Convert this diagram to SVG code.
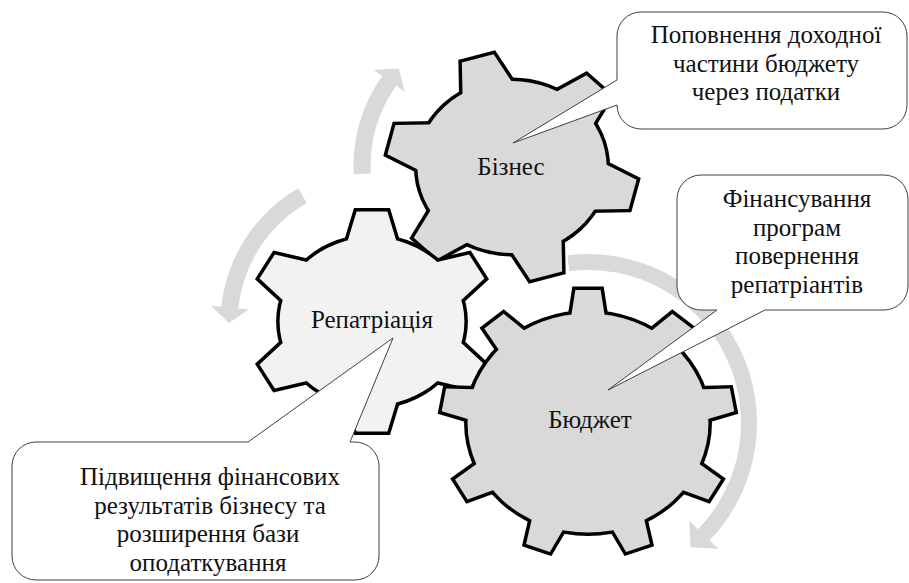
<svg xmlns="http://www.w3.org/2000/svg" xmlns:xlink="http://www.w3.org/1999/xlink" width="909" height="583" viewBox="0 0 909 583">
<style>
.lbl{font-family:'Liberation Serif','Times New Roman',serif;font-size:25px;fill:#111;text-anchor:middle}
.arc{fill:#d9d9d9;stroke:none}
.callout{fill:#fff;stroke:#404040;stroke-width:1}
.edge{stroke:#000;stroke-width:7}
.body{stroke:none}
</style>
<defs>
<path id="t6a" d="M-14,-110 L14,-110 L29.2,-55 L-29.2,-55 Z" vector-effect="non-scaling-stroke"/>
<path id="t6b" d="M-15,-113 L15,-113 L30.5,-55 L-30.5,-55 Z" vector-effect="non-scaling-stroke"/>
<path id="t9" d="M-11.5,-133 L11.5,-133 L18.4,-85 L-18.4,-85 Z" vector-effect="non-scaling-stroke"/>
<clipPath id="clip2"><rect x="677" y="175" width="231" height="124"/></clipPath>
</defs>
<rect width="909" height="583" fill="#fff"/>

<g id="connectors">
<path class="arc" d="M353.66,174.19 A158.5,158.5 0 0 1 382.16,76.09 L373.56,70.06 L398.79,68.59 L404.69,91.86 L396.09,85.84 A141.5,141.5 0 0 0 370.65,173.42 Z"/>
<path class="arc" d="M298.25,188.33 A155.5,155.5 0 0 0 221.35,306.75 L210.91,305.65 L229,323 L248.7,309.62 L238.26,308.52 A138.5,138.5 0 0 1 306.75,203.06 Z"/>
<path class="arc" d="M567.4,255.26 A169,169 0 0 1 709.57,540.4 L718.2,548.73 L690.41,547.23 L689.43,520.95 L698.06,529.28 A153,153 0 0 0 569.35,271.14 Z"/>
</g>

<g id="node-biznes">
<g transform="translate(512,167) scale(1.1,1)" fill="#d9d9d9">
<g class="edge">
<use xlink:href="#t6b" transform="rotate(-16)"/><use xlink:href="#t6b" transform="rotate(44)"/><use xlink:href="#t6b" transform="rotate(104)"/><use xlink:href="#t6b" transform="rotate(164)"/><use xlink:href="#t6b" transform="rotate(224)"/><use xlink:href="#t6b" transform="rotate(284)"/>
<circle r="86" vector-effect="non-scaling-stroke"/>
</g>
<g class="body">
<use xlink:href="#t6b" transform="rotate(-16)"/><use xlink:href="#t6b" transform="rotate(44)"/><use xlink:href="#t6b" transform="rotate(104)"/><use xlink:href="#t6b" transform="rotate(164)"/><use xlink:href="#t6b" transform="rotate(224)"/><use xlink:href="#t6b" transform="rotate(284)"/>
<circle r="86"/>
</g>
</g>
<text class="lbl" x="511" y="175">Бізнес</text>
</g>

<g id="node-repatriatsiia">
<g transform="translate(372,321.5) scale(1.1,1)" fill="#f2f2f2">
<g class="edge">
<use xlink:href="#t6a"/><use xlink:href="#t6a" transform="rotate(60)"/><use xlink:href="#t6a" transform="rotate(120)"/><use xlink:href="#t6a" transform="rotate(180)"/><use xlink:href="#t6a" transform="rotate(240)"/><use xlink:href="#t6a" transform="rotate(300)"/>
<circle r="84" vector-effect="non-scaling-stroke"/>
</g>
<g class="body">
<use xlink:href="#t6a"/><use xlink:href="#t6a" transform="rotate(60)"/><use xlink:href="#t6a" transform="rotate(120)"/><use xlink:href="#t6a" transform="rotate(180)"/><use xlink:href="#t6a" transform="rotate(240)"/><use xlink:href="#t6a" transform="rotate(300)"/>
<circle r="84"/>
</g>
</g>
<text class="lbl" x="372" y="328">Репатріація</text>
</g>

<g id="node-biudzhet">
<g transform="translate(588,423) scale(1.1,1)" fill="#d9d9d9">
<g class="edge">
<use xlink:href="#t9"/><use xlink:href="#t9" transform="rotate(40)"/><use xlink:href="#t9" transform="rotate(80)"/><use xlink:href="#t9" transform="rotate(120)"/><use xlink:href="#t9" transform="rotate(160)"/><use xlink:href="#t9" transform="rotate(200)"/><use xlink:href="#t9" transform="rotate(240)"/><use xlink:href="#t9" transform="rotate(280)"/><use xlink:href="#t9" transform="rotate(320)"/>
<circle r="109.5" vector-effect="non-scaling-stroke"/>
</g>
<g class="body">
<use xlink:href="#t9"/><use xlink:href="#t9" transform="rotate(40)"/><use xlink:href="#t9" transform="rotate(80)"/><use xlink:href="#t9" transform="rotate(120)"/><use xlink:href="#t9" transform="rotate(160)"/><use xlink:href="#t9" transform="rotate(200)"/><use xlink:href="#t9" transform="rotate(240)"/><use xlink:href="#t9" transform="rotate(280)"/><use xlink:href="#t9" transform="rotate(320)"/>
<circle r="109.5"/>
</g>
</g>
<text class="lbl" x="590" y="428">Бюджет</text>
</g>

<g id="callout-popovnennia">
<path class="callout" d="M641,12 H883 A24,24 0 0 1 907,36 V105 A24,24 0 0 1 883,129 H641 A24,24 0 0 1 617,105 L513,143 L617,80 V36 A24,24 0 0 1 641,12 Z"/>
<text class="lbl" x="766" y="43">Поповнення доходної</text>
<text class="lbl" x="766" y="71.5">частини бюджету</text>
<text class="lbl" x="766" y="100">через податки</text>
</g>

<g id="callout-finansuvannia">
<path class="callout" d="M701,175 H884 A24,24 0 0 1 908,199 V286 A24,24 0 0 1 884,310 H765 L608,390 L717,310 H701 A24,24 0 0 1 677,286 V199 A24,24 0 0 1 701,175 Z"/>
<g clip-path="url(#clip2)">
<text class="lbl" x="797" y="207">Фінансування</text>
<text class="lbl" x="797" y="235.5">програм</text>
<text class="lbl" x="797" y="264">повернення</text>
<text class="lbl" x="797" y="292.5">репатріантів</text>
</g>
</g>

<g id="callout-pidvyshchennia">
<path class="callout" d="M36,442 H248 L393,338 L350,442 H355 A24,24 0 0 1 379,466 V556 A24,24 0 0 1 355,580 H36 A24,24 0 0 1 12,556 V466 A24,24 0 0 1 36,442 Z"/>
<text class="lbl" x="210" y="485">Підвищення фінансових</text>
<text class="lbl" x="210" y="513.5">результатів бізнесу та</text>
<text class="lbl" x="208" y="542">розширення бази</text>
<text class="lbl" x="208" y="570.5">оподаткування</text>
</g>
</svg>
